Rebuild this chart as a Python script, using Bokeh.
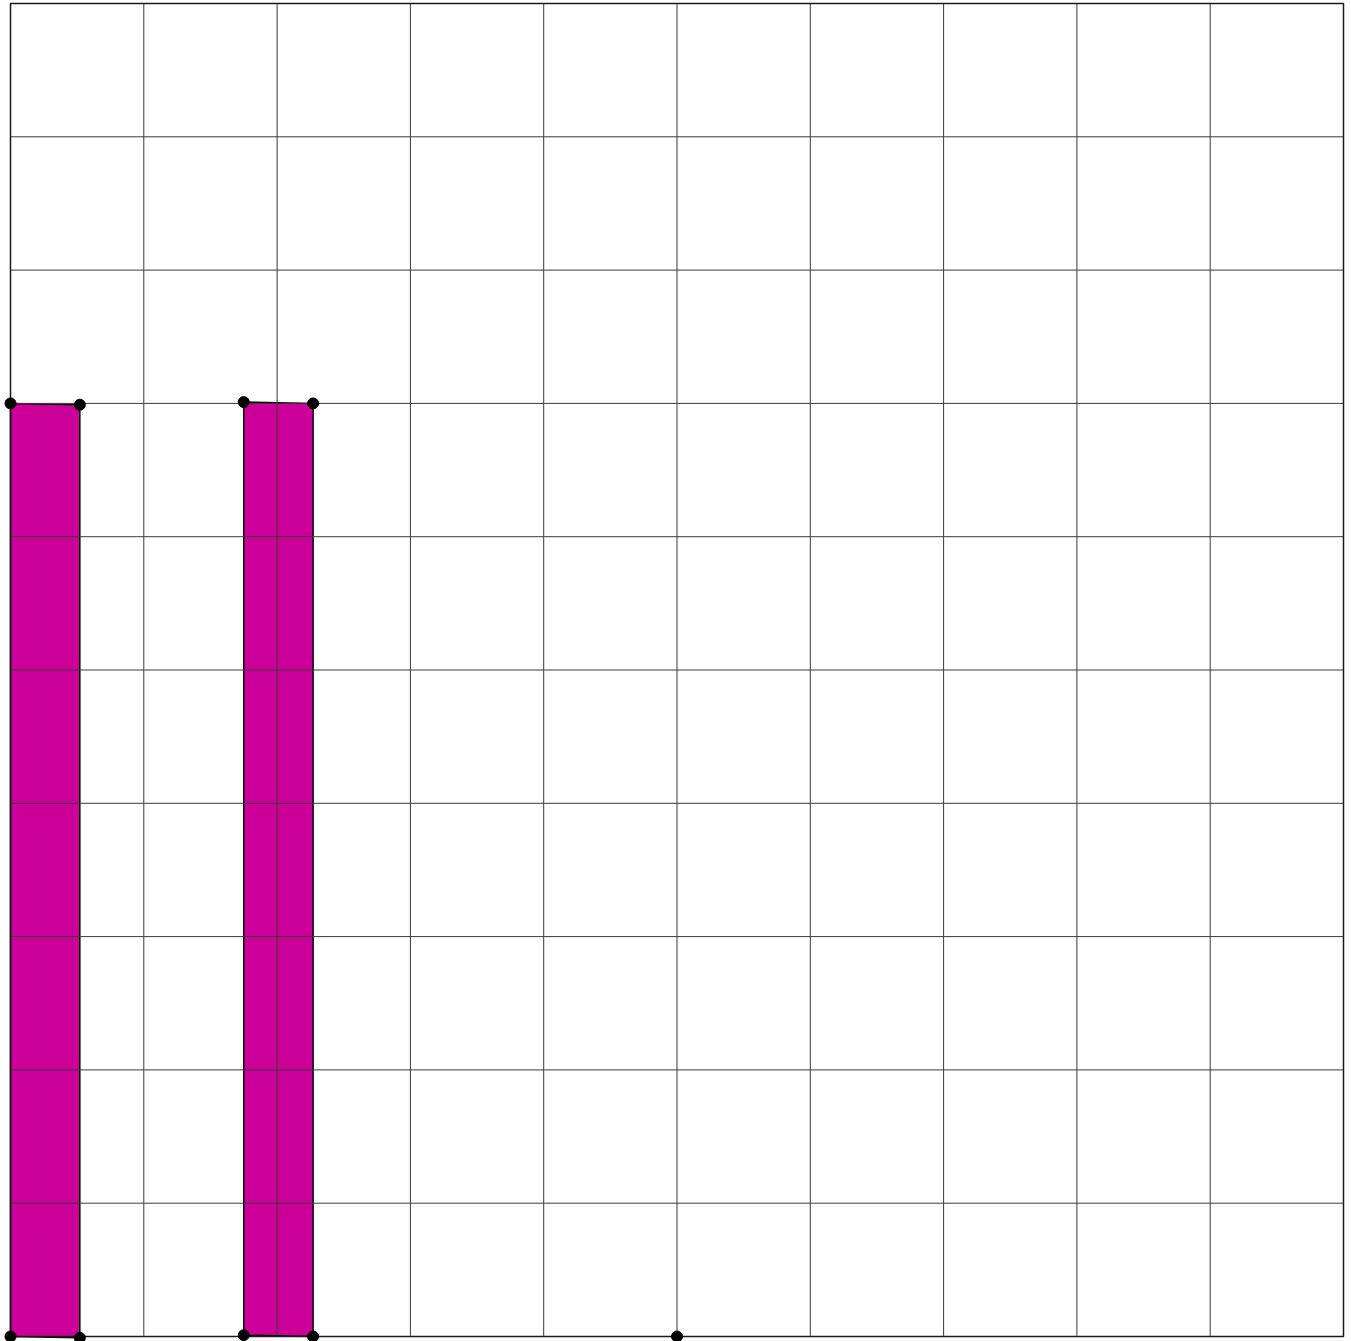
from bokeh.plotting import figure
from bokeh.models import Range1d
from bokeh.embed import file_html
from bokeh.resources import INLINE

# Grid ticks
grid_ticks = list(range(0, 11))

# Polygon vertices (data units)
poly1_x = [0.0, 0.52, 0.52, 0.0]
poly1_y = [7.0, 6.99, -0.01, 0.0]
poly2_x = [1.75, 2.27, 2.27, 1.75]
poly2_y = [7.01, 7.0, 0.0, 0.01]

# Extra point
extra_x = [5.0]
extra_y = [0.0]

S = 133.3  # px per unit
FW, FH = 1351, 1341
x0 = -10 / S
y1 = 10 + 3 / S
p = figure(frame_width=FW, frame_height=FH,
           x_range=Range1d(x0, x0 + FW / S), y_range=Range1d(y1 - FH / S, y1),
           output_backend="svg", toolbar_location=None,
           x_axis_location=None, y_axis_location=None,
           min_border_left=0, min_border_right=0,
           min_border_top=0, min_border_bottom=0)
p.xgrid.visible = False
p.ygrid.visible = False
p.outline_line_color = None
p.background_fill_color = "white"
p.border_fill_color = "white"

lo, hi = grid_ticks[0], grid_ticks[-1]
inner = grid_ticks[1:-1]

p.patches(xs=[poly1_x, poly2_x], ys=[poly1_y, poly2_y],
          fill_color="#CC0099", line_color="black", line_width=1.5)

# grid lines (drawn above the polygons)
p.segment(x0=inner, y0=[lo] * len(inner), x1=inner, y1=[hi] * len(inner),
          line_color="#3a3a3a", line_width=1)
p.segment(x0=[lo] * len(inner), y0=inner, x1=[hi] * len(inner), y1=inner,
          line_color="#3a3a3a", line_width=1)
# outer border
p.quad(left=[lo], right=[hi], bottom=[lo], top=[hi],
       fill_color=None, line_color="#1a1a1a", line_width=1.5)

pts_x = poly1_x + poly2_x + extra_x
pts_y = poly1_y + poly2_y + extra_y
p.scatter(pts_x, pts_y, size=11, fill_color="black", line_color="black")

open("out.html", "w").write(file_html(p, INLINE))
